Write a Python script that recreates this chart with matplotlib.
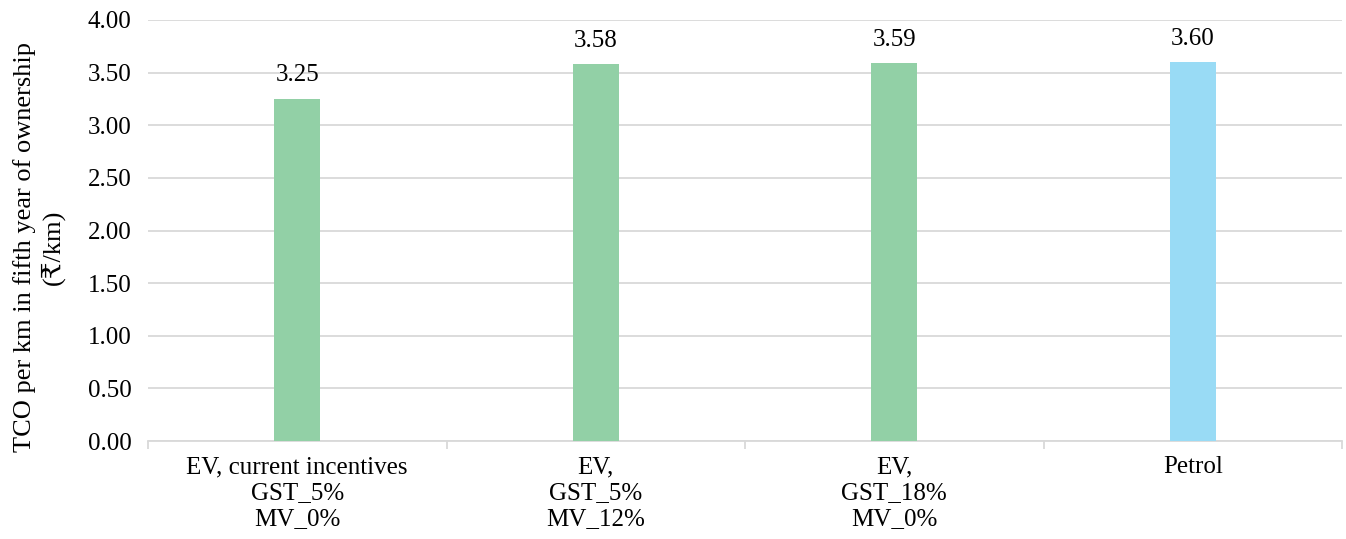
import matplotlib.pyplot as plt

categories = ['EV, current incentives\nGST_5%\nMV_0%',
              'EV,\nGST_5%\nMV_12%',
              'EV,\nGST_18%\nMV_0%',
              'Petrol']
tco = [3.25, 3.58, 3.59, 3.60]
bar_colors = ['#92d0a6', '#92d0a6', '#92d0a6', '#99dbf5']
y_ticks = [0.0, 0.5, 1.0, 1.5, 2.0, 2.5, 3.0, 3.5, 4.0]

plt.rcParams['font.family'] = ['Liberation Serif', 'DejaVu Serif', 'DejaVu Sans']
plt.rcParams['font.size'] = 18

fig = plt.figure(figsize=(13.46, 5.39), dpi=100)
ax = fig.add_axes([148 / 1346, 1 - 441 / 539, (1342 - 148) / 1346, (441 - 20) / 539])

x = list(range(len(categories)))
bars = ax.bar(x, tco, width=0.155, color=bar_colors, zorder=3)

# valores acima das barras
for b, v in zip(bars, tco):
    ax.annotate(f'{v:.2f}', (b.get_x() + b.get_width() / 2, v),
                xytext=(0, 9), textcoords='offset points',
                ha='center', va='bottom')

ax.set_xlim(-0.5, len(categories) - 0.5)
ax.set_ylim(0, 4.0)
ax.set_yticks(y_ticks)
ax.set_yticklabels([f'{t:.2f}' for t in y_ticks])
ax.yaxis.grid(True, color='#d9d9d9', linewidth=1.3, zorder=0)
ax.tick_params(axis='y', length=0, pad=12)

# categorias no centro, marcas nas divisões
ax.set_xticks(x)
ax.set_xticklabels(categories, linespacing=1.22)
ax.set_xticks([i - 0.5 for i in range(len(categories) + 1)], minor=True)
ax.tick_params(axis='x', which='major', length=0, pad=11)
ax.tick_params(axis='x', which='minor', length=6, color='#d9d9d9', width=1.3)

for s in ['top', 'right', 'left']:
    ax.spines[s].set_visible(False)
ax.spines['bottom'].set_color('#d9d9d9')
ax.spines['bottom'].set_linewidth(1.3)

# titulo do eixo y
fig.text(39 / 1346, 1 - 247 / 539, 'TCO per km in fifth year of ownership\n(₹/km)',
         rotation=90, ha='center', va='center', fontsize=19, linespacing=1.25)

fig.savefig('out.png', dpi=100)
